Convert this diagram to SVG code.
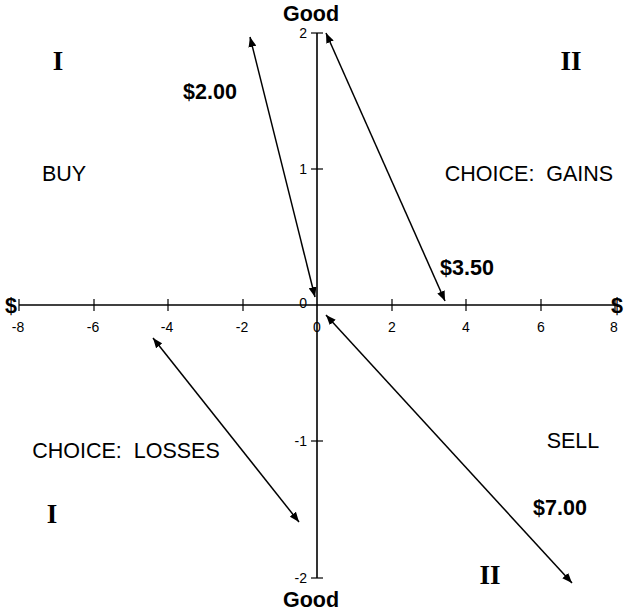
<svg xmlns="http://www.w3.org/2000/svg" width="625" height="613" viewBox="0 0 625 613">
<style>
.ax{stroke:#000;stroke-width:1.6;fill:none}
.tk{stroke:#000;stroke-width:1.2}
.ar{stroke:#000;stroke-width:1.5;fill:none;marker-start:url(#ah);marker-end:url(#ah)}
.num{font-family:"Liberation Sans",Arial,sans-serif;font-size:14px;fill:#000}
.lbl{font-family:"Liberation Sans",Arial,sans-serif;font-size:21.5px;fill:#000;white-space:pre}
.bold{font-family:"Liberation Sans",Arial,sans-serif;font-size:21.5px;font-weight:bold;fill:#000}
.rom{font-family:"Liberation Serif","Times New Roman",serif;font-size:27px;font-weight:bold;fill:#000}
</style>
<defs>
<marker id="ah" viewBox="0 0 10 8" refX="10" refY="4" markerWidth="10" markerHeight="8" markerUnits="userSpaceOnUse" orient="auto-start-reverse">
<path d="M0,0 L10,4 L0,8 Z" fill="#000"/>
</marker>
</defs>
<g id="axes">
<line class="ax" x1="19" y1="305" x2="615" y2="305"/>
<line class="ax" x1="317" y1="33" x2="317" y2="578"/>
<g class="tk">
<line x1="19" y1="299" x2="19" y2="311"/>
<line x1="94" y1="299" x2="94" y2="311"/>
<line x1="168" y1="299" x2="168" y2="311"/>
<line x1="243" y1="299" x2="243" y2="311"/>
<line x1="392" y1="299" x2="392" y2="311"/>
<line x1="466" y1="299" x2="466" y2="311"/>
<line x1="541" y1="299" x2="541" y2="311"/>
<line x1="615" y1="299" x2="615" y2="311"/>
<line x1="311" y1="33" x2="323" y2="33"/>
<line x1="311" y1="169" x2="323" y2="169"/>
<line x1="311" y1="441" x2="323" y2="441"/>
<line x1="311" y1="578" x2="323" y2="578"/>
</g>
<g class="num" text-anchor="middle">
<text x="18" y="332">-8</text>
<text x="93" y="332">-6</text>
<text x="167" y="332">-4</text>
<text x="242" y="332">-2</text>
<text x="317" y="332">0</text>
<text x="392" y="332">2</text>
<text x="466" y="332">4</text>
<text x="541" y="332">6</text>
<text x="614" y="332">8</text>
</g>
<g class="num" text-anchor="end">
<text x="307" y="38">2</text>
<text x="307" y="174">1</text>
<text x="307" y="308">0</text>
<text x="307" y="446">-1</text>
<text x="307" y="583">-2</text>
</g>
<text class="bold" x="11" y="313" text-anchor="middle" font-size="22">$</text>
<text class="bold" x="617" y="313" text-anchor="middle" font-size="22">$</text>
<text class="bold" x="311" y="21" text-anchor="middle" font-size="22.5">Good</text>
<text class="bold" x="311" y="607" text-anchor="middle" font-size="22.5">Good</text>
</g>
<g id="quadrants">
<text class="rom" x="58" y="70" text-anchor="middle">I</text>
<text class="rom" x="571" y="70" text-anchor="middle">II</text>
<text class="rom" x="52" y="523" text-anchor="middle">I</text>
<text class="rom" x="490" y="584" text-anchor="middle">II</text>
<text class="lbl" x="64" y="181" text-anchor="middle">BUY</text>
<text class="lbl" x="529" y="181" text-anchor="middle">CHOICE:  GAINS</text>
<text class="lbl" x="126" y="458" text-anchor="middle">CHOICE:  LOSSES</text>
<text class="lbl" x="573" y="448" text-anchor="middle">SELL</text>
<text class="bold" x="210" y="99" text-anchor="middle">$2.00</text>
<text class="bold" x="467" y="275" text-anchor="middle">$3.50</text>
<text class="bold" x="560" y="515" text-anchor="middle">$7.00</text>
</g>
<g id="connectors">
<line class="ar" x1="250" y1="37" x2="315" y2="297"/>
<line class="ar" x1="326" y1="33" x2="445" y2="301"/>
<line class="ar" x1="153" y1="338" x2="299" y2="522"/>
<line class="ar" x1="326" y1="315" x2="572" y2="583"/>
</g>
</svg>
